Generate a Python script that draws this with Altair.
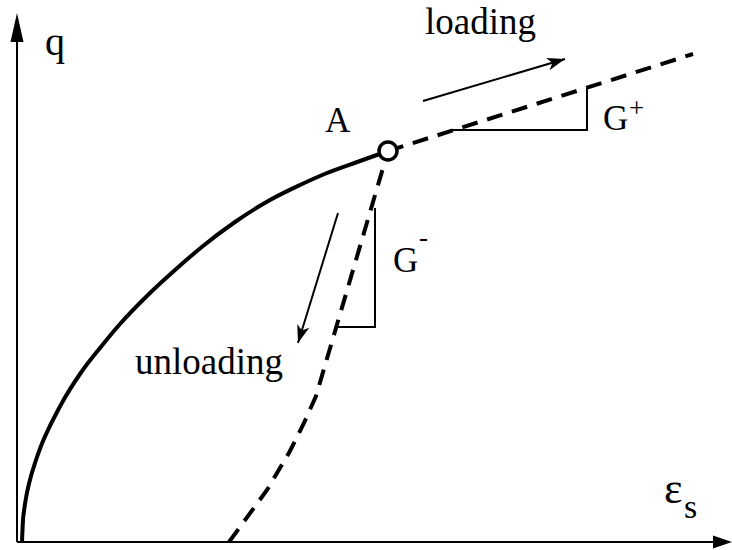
import math

import altair as alt
import pandas as pd

# Monotonic loading path from the origin up to the turning point A
curve_strain = [5, 6, 7, 9, 11, 14, 18, 24, 31, 39, 46, 63, 83, 103, 133, 158, 186, 218, 253, 283, 310, 343, 371]
curve_q = [0, 22, 31, 44, 54, 66, 79, 96, 112, 128, 141, 168, 194, 218, 249, 272, 296, 320, 342, 357, 369, 381, 391]

# Unloading branch from A back to the strain axis
unload_strain = [212, 250, 273, 287, 299, 371]
unload_q = [0, 52, 91, 119, 146, 391]

# Continued loading branch beyond A
reload_strain = [371, 676]
reload_q = [391, 488]

# Turning point A
point_a_strain = [371]
point_a_q = [391]

# Slope triangles (G+ on the loading branch, G- on the unloading branch)
gplus_strain = [435, 570, 570]
gplus_q = [412, 412, 454]
gminus_strain = [320, 358, 358]
gminus_q = [215, 215, 334]

# Direction arrows: start and tip
loading_arrow = [(406, 441), (548, 483)]
unloading_arrow = [(321, 329), (281, 199)]

# Axis extents (tip positions of the arrows)
q_axis_tip = 529
strain_axis_tip = 715

# Labels: text, strain, q, font size
label_text = ["q", "loading", "unloading", "A", "G", "+", "G", "-", "ε", "s"]
label_strain = [28, 408, 118, 308, 586, 612, 376, 402, 647, 667]
label_q = [487, 508, 168, 410, 412, 425, 270, 296, 39, 24]
label_size = [40, 37, 37, 35, 35, 27, 35, 27, 44, 34]

FONT = "Liberation Serif"
W, H = 732, 550

xs = alt.Scale(domain=[-17, 715], nice=False, zero=False)
ys = alt.Scale(domain=[-8, 542], nice=False, zero=False)


def xy(xf="x", yf="y"):
    return dict(
        x=alt.X(f"{xf}:Q", scale=xs, axis=None),
        y=alt.Y(f"{yf}:Q", scale=ys, axis=None),
    )


def head(start, tip, length):
    """Centre and rotation for an arrowhead whose point sits on `tip`."""
    dx = tip[0] - start[0]
    dy = tip[1] - start[1]
    n = math.hypot(dx, dy)
    cx = tip[0] - dx / n * length / 2
    cy = tip[1] - dy / n * length / 2
    ang = math.degrees(math.atan2(-dy, dx)) % 360
    return cx, cy, ang


# --- axes ---------------------------------------------------------------
q_head_len, s_head_len = 29, 19
axes_df = pd.DataFrame(
    {
        "x": [0, 0],
        "y": [0, 0],
        "x2": [0, strain_axis_tip - s_head_len + 4],
        "y2": [q_axis_tip - q_head_len + 4, 0],
    }
)
axes = alt.Chart(axes_df).mark_rule(color="black", strokeWidth=2).encode(
    **xy(), x2="x2:Q", y2="y2:Q"
)

qx, qy, qa = head((0, 0), (0, q_axis_tip), q_head_len)
sx, sy, sa = head((0, 0), (strain_axis_tip, 0), s_head_len)

q_head = alt.Chart(pd.DataFrame({"x": [qx], "y": [qy], "a": [qa]})).mark_point(
    shape="M1,0L-1,-0.45L-1,0.45Z",
    size=q_head_len**2,
    filled=True,
    color="black",
    opacity=1,
    strokeWidth=0,
).encode(**xy(), angle=alt.Angle("a:Q", scale=None))

s_head = alt.Chart(pd.DataFrame({"x": [sx], "y": [sy], "a": [sa]})).mark_point(
    shape="M1,0L-1,-0.68L-1,0.68Z",
    size=s_head_len**2,
    filled=True,
    color="black",
    opacity=1,
    strokeWidth=0,
).encode(**xy(), angle=alt.Angle("a:Q", scale=None))

# --- stress-strain paths ------------------------------------------------
curve = alt.Chart(pd.DataFrame({"x": curve_strain, "y": curve_q})).mark_line(
    color="black", strokeWidth=4, interpolate="monotone"
).encode(**xy())

unload = alt.Chart(pd.DataFrame({"x": unload_strain, "y": unload_q})).mark_line(
    color="black", strokeWidth=4, strokeDash=[16, 10]
).encode(**xy())

reload = alt.Chart(pd.DataFrame({"x": reload_strain, "y": reload_q})).mark_line(
    color="black", strokeWidth=4, strokeDash=[16, 10]
).encode(**xy())

# --- slope triangles ----------------------------------------------------
gplus = alt.Chart(
    pd.DataFrame({"x": gplus_strain, "y": gplus_q, "o": [0, 1, 2]})
).mark_line(color="black", strokeWidth=2).encode(**xy(), order="o:Q")

gminus = alt.Chart(
    pd.DataFrame({"x": gminus_strain, "y": gminus_q, "o": [0, 1, 2]})
).mark_line(color="black", strokeWidth=2).encode(**xy(), order="o:Q")

# --- direction arrows ---------------------------------------------------
arrow_len = 18
arrows_df = pd.DataFrame(
    {
        "x": [loading_arrow[0][0], unloading_arrow[0][0]],
        "y": [loading_arrow[0][1], unloading_arrow[0][1]],
        "x2": [loading_arrow[1][0], unloading_arrow[1][0]],
        "y2": [loading_arrow[1][1], unloading_arrow[1][1]],
    }
)
arrow_lines = alt.Chart(arrows_df).mark_rule(color="black", strokeWidth=2).encode(
    **xy(), x2="x2:Q", y2="y2:Q"
)

heads = [head(a[0], a[1], arrow_len) for a in (loading_arrow, unloading_arrow)]
heads_df = pd.DataFrame(
    {"x": [h[0] for h in heads], "y": [h[1] for h in heads], "a": [h[2] for h in heads]}
)
arrow_heads = alt.Chart(heads_df).mark_point(
    shape="M1,0L-1,-0.7L-0.45,0L-1,0.7Z",
    size=arrow_len**2,
    filled=True,
    color="black",
    opacity=1,
    strokeWidth=0,
).encode(**xy(), angle=alt.Angle("a:Q", scale=None))

# --- turning point A ----------------------------------------------------
point_a = alt.Chart(pd.DataFrame({"x": point_a_strain, "y": point_a_q})).mark_point(
    shape="circle",
    size=324,
    filled=True,
    fill="white",
    stroke="black",
    strokeWidth=3.5,
    opacity=1,
    fillOpacity=1,
    strokeOpacity=1,
).encode(**xy())

# --- labels -------------------------------------------------------------
labels = alt.Chart(
    pd.DataFrame({"t": label_text, "x": label_strain, "y": label_q, "s": label_size})
).mark_text(
    font=FONT, align="left", baseline="alphabetic", color="black"
).encode(**xy(), text="t:N", size=alt.Size("s:Q", scale=None))

chart = (
    alt.layer(
        axes,
        q_head,
        s_head,
        curve,
        unload,
        reload,
        gplus,
        gminus,
        arrow_lines,
        arrow_heads,
        point_a,
        labels,
    )
    .properties(width=W, height=H, padding=0, autosize="none", background="white")
    .configure_view(stroke=None)
)

chart.save("out.html", embed_options={"renderer": "svg", "actions": False})
